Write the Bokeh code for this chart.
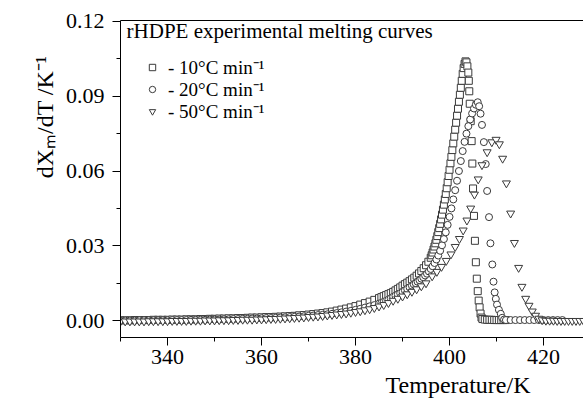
from bokeh.plotting import figure
from bokeh.models import (Range1d, FixedTicker, NumeralTickFormatter, LinearAxis,
                          Legend, LegendItem, Label, Title)
from bokeh.embed import file_html
from bokeh.resources import INLINE

# ---------------- data ----------------
series_labels = ["- 10°C min⁻¹", "- 20°C min⁻¹", "- 50°C min⁻¹"]

sq_pts = [
    (330, 0.0001), (331, 0.0001), (332, 0.0001), (333, 0.0002), (334, 0.0002),
    (335, 0.0002), (336, 0.0002), (337, 0.0003), (338, 0.0003), (339, 0.0003),
    (340, 0.0003), (341, 0.0004), (342, 0.0004), (343, 0.0004), (344, 0.0005),
    (345, 0.0005), (346, 0.0005), (347, 0.0006), (348, 0.0006), (349, 0.0007),
    (350, 0.0007), (351, 0.0008), (352, 0.0008), (353, 0.0009), (354, 0.0009),
    (355, 0.0010), (356, 0.0010), (357, 0.0011), (358, 0.0012), (359, 0.0012),
    (360, 0.0013), (361, 0.0014), (362, 0.0014), (363, 0.0015), (364, 0.0016),
    (365, 0.0017), (366, 0.0018), (367, 0.0019), (368, 0.0021), (369, 0.0022),
    (370, 0.0024), (371, 0.0026), (372, 0.0028), (373, 0.0030), (374, 0.0033),
    (375, 0.0036), (376, 0.0040), (377, 0.0044), (378, 0.0048), (379, 0.0053),
    (380, 0.0058), (381, 0.0064), (382, 0.0070), (383, 0.0076), (384, 0.0083),
    (385, 0.0090), (385.5, 0.0094), (386, 0.0098), (386.5, 0.0102), (387, 0.0106),
    (387.5, 0.0110), (388, 0.0115), (388.5, 0.0121), (389, 0.0127), (389.5, 0.0133),
    (390, 0.0140), (390.5, 0.0146), (391, 0.0152), (391.5, 0.0158), (392, 0.0165),
    (392.5, 0.0172), (393, 0.0180), (393.5, 0.0189), (394, 0.0199), (394.5, 0.0210),
    (395, 0.0222), (395.5, 0.0236), (396.0, 0.0252), (396.2, 0.0262), (396.4, 0.0273),
    (396.6, 0.0285), (396.8, 0.0297), (397.0, 0.0310), (397.2, 0.0324), (397.4, 0.0339),
    (397.6, 0.0355), (397.8, 0.0371), (398.0, 0.0388), (398.2, 0.0406), (398.4, 0.0425),
    (398.6, 0.0445), (398.8, 0.0465), (399.0, 0.0486), (399.2, 0.0508), (399.4, 0.0531),
    (399.6, 0.0555), (399.8, 0.0580), (400.0, 0.0605), (400.2, 0.0631), (400.4, 0.0657),
    (400.6, 0.0684), (400.8, 0.0711), (401.0, 0.0738), (401.2, 0.0766), (401.4, 0.0794),
    (401.6, 0.0822), (401.8, 0.0850), (402.0, 0.0878), (402.2, 0.0906), (402.4, 0.0934),
    (402.6, 0.0962), (402.8, 0.0990), (403.0, 0.1013), (403.2, 0.1030), (403.4, 0.1040),
    (403.6, 0.1036), (403.8, 0.1020), (404.0, 0.0995), (404.1, 0.0962), (404.2, 0.0920),
    (404.3, 0.0870), (404.5, 0.0800), (404.7, 0.0720), (404.85, 0.0630), (405.0, 0.0530),
    (405.2, 0.0420), (405.4, 0.0320), (405.6, 0.0234), (405.8, 0.0168), (406.0, 0.0118),
    (406.2, 0.0080), (406.4, 0.0053), (406.6, 0.0028), (406.8, 0.0012), (407.0, 0.0006),
    (407.5, 0.0004), (408.0, 0.0003), (408.5, 0.0003), (409.0, 0.0003), (409.5, 0.0002),
    (410.0, 0.0002), (410.5, 0.0002), (411.0, 0.0002), (411.5, 0.0002), (412.0, 0.0002),
]

ci_pts = [
    (330, 0.0000), (331, 0.0000), (332, 0.0000), (333, 0.0000), (334, 0.0001),
    (335, 0.0001), (336, 0.0001), (337, 0.0001), (338, 0.0001), (339, 0.0001),
    (340, 0.0001), (341, 0.0002), (342, 0.0002), (343, 0.0002), (344, 0.0002),
    (345, 0.0003), (346, 0.0003), (347, 0.0003), (348, 0.0003), (349, 0.0004),
    (350, 0.0004), (351, 0.0004), (352, 0.0005), (353, 0.0005), (354, 0.0006),
    (355, 0.0006), (356, 0.0007), (357, 0.0007), (358, 0.0008), (359, 0.0008),
    (360, 0.0009), (361, 0.0010), (362, 0.0010), (363, 0.0011), (364, 0.0012),
    (365, 0.0013), (366, 0.0014), (367, 0.0015), (368, 0.0016), (369, 0.0017),
    (370, 0.0019), (371, 0.0020), (372, 0.0022), (373, 0.0023), (374, 0.0025),
    (375, 0.0027), (376, 0.0030), (377, 0.0033), (378, 0.0036), (379, 0.0039),
    (380, 0.0043), (381, 0.0047), (382, 0.0052), (383, 0.0057), (384, 0.0062),
    (385, 0.0068), (385.5, 0.0071), (386, 0.0075), (386.5, 0.0079), (387, 0.0084),
    (387.5, 0.0089), (388, 0.0095), (388.5, 0.0100), (389, 0.0105), (389.5, 0.0110),
    (390, 0.0115), (390.5, 0.0121), (391, 0.0127), (391.5, 0.0133), (392, 0.0140),
    (392.4, 0.0145), (392.8, 0.0150), (393.2, 0.0156), (393.6, 0.0162), (394.0, 0.0168),
    (394.4, 0.0174), (394.8, 0.0181), (395.2, 0.0188), (395.6, 0.0197), (396.0, 0.0207),
    (396.4, 0.0218), (396.8, 0.0231), (397.2, 0.0245), (397.6, 0.0261), (398.0, 0.0280),
    (398.4, 0.0302), (398.8, 0.0327), (399.2, 0.0354), (399.6, 0.0384), (400.0, 0.0416),
    (400.4, 0.0450), (400.8, 0.0486), (401.2, 0.0523), (401.6, 0.0561), (402.0, 0.0600),
    (402.4, 0.0640), (402.8, 0.0680), (403.2, 0.0717), (403.6, 0.0750), (404.0, 0.0780),
    (404.4, 0.0807), (404.8, 0.0831), (405.2, 0.0851), (405.6, 0.0866), (406.0, 0.0876),
    (406.3, 0.0860), (406.6, 0.0830), (406.9, 0.0785), (407.3, 0.0716), (407.7, 0.0628),
    (408.0, 0.0520), (408.4, 0.0415), (408.7, 0.0310), (409.1, 0.0225), (409.35, 0.0156),
    (409.6, 0.0113), (409.85, 0.0087), (410.1, 0.0064), (410.5, 0.0043), (410.9, 0.0027),
    (411.2, 0.0011), (411.6, 0.0004), (412, 0.0002), (413, 0.0002), (414, 0.0002),
    (415, 0.0002), (416, 0.0002), (417, 0.0002), (418, 0.0002), (419, 0.0002),
    (420, 0.0002), (421, 0.0002), (422, 0.0002), (423, 0.0002), (424, 0.0002),
]

tr_pts = [
    (330, -0.0003), (331, -0.0003), (332, -0.0003), (333, -0.0003), (334, -0.0003),
    (335, -0.0003), (336, -0.0002), (337, -0.0002), (338, -0.0002), (339, -0.0002),
    (340, -0.0002), (341, -0.0001), (342, -0.0001), (343, -0.0001), (344, -0.0001),
    (345, 0.0000), (346, 0.0000), (347, 0.0000), (348, 0.0001), (349, 0.0001),
    (350, 0.0001), (351, 0.0002), (352, 0.0002), (353, 0.0002), (354, 0.0003),
    (355, 0.0003), (356, 0.0004), (357, 0.0004), (358, 0.0004), (359, 0.0005),
    (360, 0.0005), (361, 0.0006), (362, 0.0007), (363, 0.0007), (364, 0.0008),
    (365, 0.0009), (366, 0.0010), (367, 0.0011), (368, 0.0012), (369, 0.0013),
    (370, 0.0015), (371, 0.0016), (372, 0.0017), (373, 0.0019), (374, 0.0021),
    (375, 0.0023), (376, 0.0025), (377, 0.0027), (378, 0.0029), (379, 0.0032),
    (380, 0.0035), (381, 0.0038), (382, 0.0042), (383, 0.0046), (384, 0.0051),
    (385, 0.0057), (386, 0.0063), (387, 0.0071), (388, 0.0080), (389, 0.0088),
    (390, 0.0097), (391, 0.0106), (392, 0.0116), (393, 0.0126), (394, 0.0138),
    (395, 0.0150), (396.3, 0.0178), (397.3, 0.0196), (398.3, 0.0216), (399.3, 0.0240),
    (400.3, 0.0266), (401.2, 0.0296), (402.1, 0.0328), (402.9, 0.0362), (403.7, 0.0402),
    (404.5, 0.0450), (405.3, 0.0506), (406.1, 0.0567), (406.9, 0.0624), (408.0, 0.0676),
    (409.0, 0.0716), (409.9, 0.0726), (410.6, 0.0708), (411.3, 0.0650), (412.1, 0.0551),
    (413.0, 0.0430), (413.8, 0.0312), (414.7, 0.0212), (415.4, 0.0136), (416.2, 0.0088),
    (416.9, 0.0060), (417.6, 0.0037), (418.3, 0.0020), (419.0, 0.0008), (419.7, 0.0002),
    (420.5, 0.0000), (421.3, 0.0000), (422.1, 0.0000), (422.9, -0.0001), (423.7, -0.0001),
    (424.5, -0.0001), (425.3, -0.0001), (426.1, -0.0001), (426.9, -0.0001),
    (427.7, -0.0001), (428.5, -0.0001),
]

x_ticks = [340, 360, 380, 400, 420]
x_minor = [330, 350, 370, 390, 410]
y_ticks = [0.00, 0.03, 0.06, 0.09, 0.12]
y_minor = [0.015, 0.045, 0.075, 0.105]

sq_T = [t for t, _ in sq_pts]; sq_Y = [v for _, v in sq_pts]
ci_T = [t for t, _ in ci_pts]; ci_Y = [v for _, v in ci_pts]
tr_T = [t for t, _ in tr_pts]; tr_Y = [v for _, v in tr_pts]

FONT = "Liberation Serif"
MK = "#3a3a3a"

p = figure(width=583, height=405, output_backend="svg", toolbar_location=None,
           x_range=Range1d(330, 428.5), y_range=Range1d(-0.0068, 0.1204),
           min_border_left=120, min_border_right=0, min_border_top=20,
           min_border_bottom=68, background_fill_color="white",
           border_fill_color="white")
p.outline_line_color = None
p.xgrid.grid_line_color = None
p.ygrid.grid_line_color = None

r1 = p.scatter(sq_T, sq_Y, marker="square", size=7, line_color=MK,
               fill_color="white", line_width=1)
r2 = p.scatter(ci_T, ci_Y, marker="circle", size=7, line_color=MK,
               fill_color="white", line_width=1)
r3 = p.scatter(tr_T, tr_Y, marker="inverted_triangle", size=8, line_color=MK,
               fill_color="white", line_width=1)

for ax in (p.xaxis[0], p.yaxis[0]):
    ax.axis_line_color = "black"
    ax.axis_line_width = 1
    ax.major_tick_line_color = "black"
    ax.minor_tick_line_color = "black"
    ax.major_tick_in = 0
    ax.major_tick_out = 8
    ax.minor_tick_in = 0
    ax.minor_tick_out = 4
    ax.major_label_text_font = FONT
    ax.major_label_text_font_style = "normal"
    ax.major_label_text_font_size = "22px"
    ax.major_label_text_color = "black"

p.xaxis[0].ticker = FixedTicker(ticks=x_ticks, minor_ticks=x_minor)
p.xaxis[0].major_label_standoff = 4
p.yaxis[0].ticker = FixedTicker(ticks=y_ticks, minor_ticks=y_minor)
p.yaxis[0].formatter = NumeralTickFormatter(format="0.00")
p.yaxis[0].major_label_standoff = 8

# plain line along the top of the frame (no ticks, no labels)
top = LinearAxis(ticker=FixedTicker(ticks=[]), major_tick_out=0, major_tick_in=0,
                 minor_tick_out=0, minor_tick_in=0, major_label_text_font_size="0px",
                 axis_line_color="black", major_label_standoff=0)
p.add_layout(top, "above")

xt = Title(text="Temperature/K", align="right", offset=53, standoff=6,
           text_font=FONT, text_font_size="24px", text_font_style="normal",
           text_color="black")
p.add_layout(xt, "below")
yt = Title(text="dXₘ/dT /K⁻¹", align="right", offset=35,
           text_font=FONT, text_font_size="24px", text_font_style="normal",
           text_color="black")
p.add_layout(yt, "left")

p.add_layout(Label(x=331.3, y=0.1162, text="rHDPE experimental melting curves",
                   text_font=FONT, text_font_size="21px", text_color="black",
                   text_align="left", text_baseline="alphabetic"))

renderers = [r1, r2, r3]
row_offsets = [257, 235, 213]
for lab, rend, vy in zip(series_labels, renderers, row_offsets):
    lg = Legend(items=[LegendItem(label=lab, renderers=[rend])],
                location=(24, vy), padding=0, margin=0, spacing=0,
                glyph_width=16, glyph_height=20, label_height=20,
                label_standoff=8, border_line_color=None,
                background_fill_alpha=0, label_text_font=FONT,
                label_text_font_size="19px", label_text_color="black")
    p.add_layout(lg)

open("out.html", "w").write(file_html(p, INLINE))
